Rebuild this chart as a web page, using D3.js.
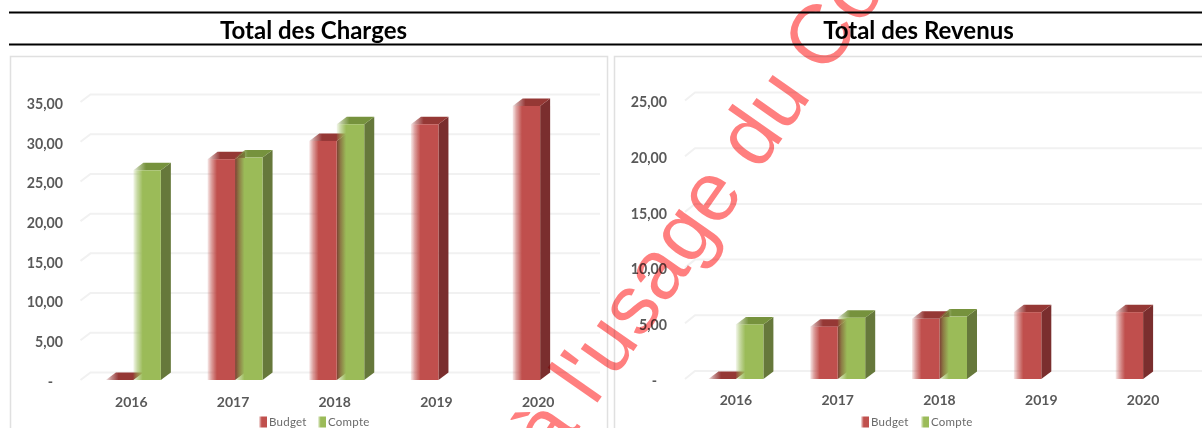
<!DOCTYPE html>
<html lang="fr"><head><meta charset="utf-8">
<script src="https://cdn.jsdelivr.net/npm/d3@7"></script>
<style>html,body{margin:0;padding:0;background:#fff;overflow:hidden}svg{display:block}
text{font-family:Lato,"Open Sans",sans-serif}</style></head>
<body><div id="chart"></div>
<script>
const years = ["2016","2017","2018","2019","2020"];
const chargesBudget = [0, 27.8, 30.1, 32.2, 34.5];
const chargesCompte = [26.4, 28.0, 32.2, null, null];
const revenusBudget = [0, 4.7, 5.4, 6.0, 6.0];
const revenusCompte = [4.9, 5.5, 5.6, null, null];
const chargesTicks = [0,5,10,15,20,25,30,35];
const revenusTicks = [0,5,10,15,20,25];
const seriesNames = ["Budget","Compte"];
const watermarkText = "à l'usage du Co";

const W=1202,H=428;
const svg=d3.select("#chart").append("svg").attr("width",W).attr("height",H).attr("viewBox",`0 0 ${W} ${H}`);
const defs=svg.append("defs");
const pal={Budget:{front:"#c0504d",side:"#7a2f2d",top:"#953735"},Compte:{front:"#9bbb59",side:"#66783a",top:"#76923c"}};
function fade(id,color){
  const g=defs.append("linearGradient").attr("id",id).attr("x1",0).attr("x2",1).attr("y1",0).attr("y2",0);
  g.append("stop").attr("offset",0).attr("stop-color",color).attr("stop-opacity",.12);
  g.append("stop").attr("offset",.14).attr("stop-color",color).attr("stop-opacity",.55);
  g.append("stop").attr("offset",.34).attr("stop-color",color).attr("stop-opacity",1);
  g.append("stop").attr("offset",1).attr("stop-color",color).attr("stop-opacity",1);
}
for(const s of seriesNames){fade("f"+s,pal[s].front);fade("t"+s,pal[s].top);}
const blur=defs.append("filter").attr("id","soft").attr("x","-10%").attr("y","-10%").attr("width","120%").attr("height","120%");
blur.append("feGaussianBlur").attr("stdDeviation",.45);

[12.5,44.5].forEach(y=>svg.append("line").attr("x1",9).attr("x2",W).attr("y1",y).attr("y2",y).attr("stroke","#000").attr("stroke-width",2));

const loc=d3.formatLocale({decimal:",",thousands:" ",grouping:[3],currency:["","€"]});
const fmt=v=>v===0?"-":loc.format(".2f")(v);

function panel(o){
  const g=svg.append("g");
  g.append("text").attr("x",o.titleX).attr("y",38.5).attr("text-anchor","middle").attr("font-size",24).attr("font-weight",700).attr("fill","#000").text(o.title);
  g.append("rect").attr("x",o.fx).attr("y",56.5).attr("width",o.fw).attr("height",H+20).attr("fill","#fff").attr("stroke","#e0e0e0").attr("stroke-width",1.5);
  const x=d3.scaleBand().domain(years).range(o.xr);
  const y=d3.scaleLinear().domain([0,o.max]).range([o.y0,o.yMax]);
  const dx=o.dx,dy=o.dy,bdy=o.barDy;
  const grid=g.append("g");
  o.ticks.forEach(t=>{
    grid.append("polyline").attr("fill","none").attr("stroke","#f1f1f1").attr("stroke-width",2)
      .attr("points",[[o.xr[0],y(t)],[o.xr[0]+dx,y(t)-dy],[o.gridEnd,y(t)-dy]].join(" "));
  });
  const ax=g.append("g").attr("transform",`translate(${o.labelX},0)`)
    .call(d3.axisLeft(y).tickValues(o.ticks).tickSize(0).tickPadding(0).tickFormat(fmt));
  ax.select(".domain").remove();
  ax.selectAll("text").attr("font-size",14.2).attr("font-weight",700).attr("fill","#595959")
    .style("font-family","Lato,sans-serif").attr("dy","0.45em")
    .attr("dx",d=>d===0?-10:0);
  g.append("g").selectAll("text").data(years).join("text")
    .attr("x",d=>x(d)+x.bandwidth()/2).attr("y",o.y0+o.labelDy).attr("text-anchor","middle")
    .attr("font-size",14).attr("font-weight",700).attr("fill","#595959").text(d=>d);
  const bars=g.append("g").attr("filter","url(#soft)");
  const bw=o.barW;
  function series(name,vals,offset){
    years.forEach((yr,i)=>{
      const v=vals[i]; if(v===null) return;
      const x0=x(yr)+x.bandwidth()/2+offset, x1=x0+bw, yt=y(v), yb=y(0);
      const c=pal[name];
      bars.append("polygon").attr("fill",c.side).attr("points",[[x1,yb],[x1+dx,yb-bdy],[x1+dx,yt-bdy],[x1,yt]].join(" "));
      bars.append("polygon").attr("fill",`url(#t${name})`).attr("points",[[x0,yt],[x1,yt],[x1+dx,yt-bdy],[x0+dx,yt-bdy]].join(" "));
      if(v>0) bars.append("rect").attr("x",x0).attr("y",yt).attr("width",bw).attr("height",yb-yt).attr("fill",`url(#f${name})`);
    });
  }
  series("Budget",o.budget,o.off-bw);
  series("Compte",o.compte,o.off);
  const lg=g.append("g");
  seriesNames.forEach((s,i)=>{
    const lx=o.legend[i];
    lg.append("rect").attr("x",lx).attr("y",416.5).attr("width",8).attr("height",11).attr("fill",`url(#f${s})`);
    lg.append("text").attr("x",lx+10).attr("y",426).attr("font-size",11.5).attr("letter-spacing",.25).attr("fill","#6a6a6a").text(s);
  });
}

panel({title:"Total des Charges",titleX:313.5,fx:10.5,fw:597,xr:[80.5,589],y0:380,yMax:102,max:35,ticks:chargesTicks,labelDy:27,
  budget:chargesBudget,compte:chargesCompte,dx:10,dy:7.5,barDy:7.5,barW:27.5,off:2,labelX:63,gridEnd:600,legend:[259,318]});
panel({title:"Total des Revenus",titleX:918.5,fx:614.5,fw:620,xr:[685,1194],y0:379,yMax:100.5,max:25,ticks:revenusTicks,labelDy:25.5,
  budget:revenusBudget,compte:revenusCompte,dx:10,dy:8,barDy:7.5,barW:27.5,off:0,labelX:667,gridEnd:W,legend:[861,921]});

svg.append("text").attr("transform","translate(554,464.7) rotate(-55)")
  .attr("font-size",84).attr("fill","#ff7f7f").style("mix-blend-mode","multiply")
  .style("font-family","'Liberation Sans',Arial,sans-serif").text(watermarkText);
</script></body></html>
